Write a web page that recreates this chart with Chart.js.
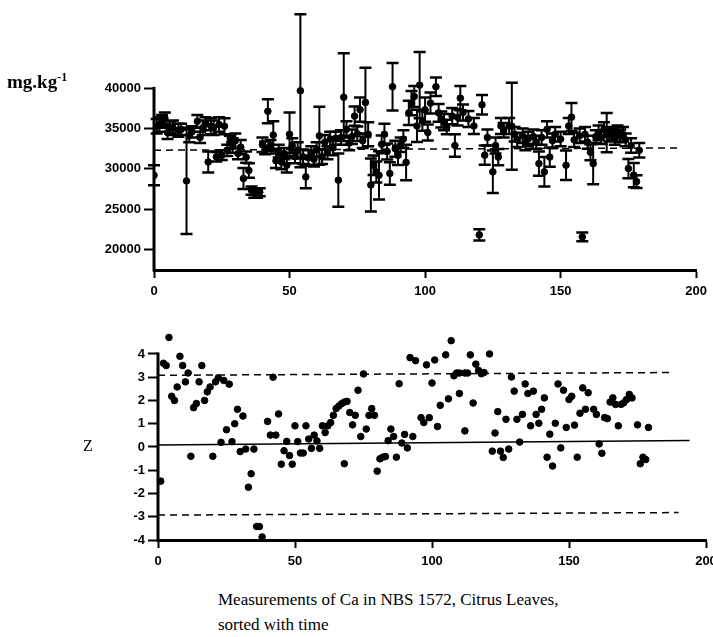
<!DOCTYPE html>
<html>
<head>
<meta charset="utf-8">
<script src="https://cdn.jsdelivr.net/npm/chart.js@4.4.1/dist/chart.umd.min.js"></script>
<style>
  body { margin: 0; background: #fff; width: 713px; height: 637px; position: relative; overflow: hidden; font-family: "Liberation Serif", "Times New Roman", serif; color: #000; }
  canvas { position: absolute; left: 0; }
  #topChart { top: 0; }
  #zChart { top: 320px; }
  .lbl { position: absolute; white-space: nowrap; }
</style>
</head>
<body>
<canvas id="topChart" width="713" height="300"></canvas>
<canvas id="zChart" width="730" height="250"></canvas>
<div class="lbl" style="left:7px;top:70px;font-size:19px;font-weight:bold;">mg.kg<sup style="font-size:12px">-1</sup></div>
<div class="lbl" style="left:83px;top:437px;font-size:16px;">Z</div>
<div class="lbl" style="left:218px;top:587px;font-size:17px;line-height:25px;">Measurements of Ca in NBS 1572, Citrus Leaves,<br>sorted with time</div>
<script>
// top panel: measured Ca (mg/kg) with uncertainty, by run order
var topIdx = [0,1,2,3,4,5,6,7,9,10,12,13,14,16,17,18,19,20,21,22,23,24,25,26,27,28,29,30,31,32,33,34,35,36,37,38,39,
  40,41,42,43,44,45,46,47,48,49,50,51,52,53,54,55,56,57,58,59,60,61,62,63,64,65,66,67,68,69,70,71,72,73,74,75,76,77,78,79,
  80,81,82,83,84,85,86,87,88,89,90,91,92,93,94,95,96,97,98,99,100,101,102,104,105,106,107,108,110,111,112,113,114,116,118,
  120,121,122,123,125,126,127,128,129,131,132,133,134,136,137,138,140,141,142,143,144,145,146,147,148,150,152,153,154,155,157,
  158,159,160,161,162,163,164,165,166,167,168,169,170,171,172,173,174,175,176,177,178,179];
var topVal = [29200,35300,35500,35900,36300,34500,35200,35100,34800,34900,28500,34100,34600,35900,33900,35100,35600,30850,35300,35100,31500,35500,31700,35300,32300,33300,32900,33500,31900,32700,28800,31450,29800,27300,27000,26900,27100,
  33000,32600,37150,32900,34200,31000,32200,30850,31900,30450,34300,32900,31500,32300,39700,31500,29000,31400,32000,31200,32400,34100,31500,33300,32000,33700,32600,33800,28600,33900,38900,34900,33200,34000,36550,34350,37350,33500,38250,34300,
  28000,30450,29600,29200,33050,34300,32150,29430,40200,32500,31670,33000,33700,30800,36950,38170,38990,35330,40400,35940,37350,34510,38170,40200,36950,36130,35800,35200,36550,32900,36400,38780,37000,36200,35330,
  21800,37960,31700,33900,29630,32900,31460,35330,34800,35330,35300,34300,33600,34100,33200,33700,34000,33300,30650,33900,29630,34900,31460,33500,34300,33700,30450,35330,36430,33600,34100,
  21550,34300,33300,32070,30650,34000,34500,33900,34900,34500,34200,34400,33900,34600,34100,34300,33600,30040,32890,29230,28410,32300];
var topErr = [1250,900,900,800,700,800,700,900,800,700,6600,800,700,800,700,900,800,1300,1000,900,600,900,600,1000,700,800,900,900,700,900,1300,700,900,500,600,500,500,
  900,800,1500,700,1700,900,800,900,700,900,2700,900,800,1000,9500,900,1400,900,800,900,900,3600,900,900,800,900,900,800,3300,900,5450,1000,900,900,1200,900,1500,900,4300,1500,
  3300,1200,1300,3000,1100,1300,1000,1400,2950,1000,1200,900,1100,2200,1500,1500,1300,2000,4100,1200,1500,1000,1300,1150,1100,1000,1000,900,1000,1400,1000,1500,1000,1000,1000,
  700,1200,1200,1000,2640,1000,1000,1000,900,1000,5400,900,900,900,900,900,900,800,1500,900,1830,1000,1200,900,900,900,1830,1000,1740,900,900,
  550,900,800,1000,2570,800,900,800,900,2450,800,800,900,800,800,900,800,1200,900,1500,800,900];
var meanIdx = [0, 194];
var meanVal = [32320, 32600];
var topTicksX = [0, 50, 100, 150, 200];
var topTicksY = [20000, 25000, 30000, 35000, 40000];

// bottom panel: z-scores
var zIdx = [1,2,3,4,5,6,7,8,9,10,11,12,13,14,15,16,17,18,19,20,21,22,23,24,25,26,27,28,29,30,31,32,33,34,35,36,37,38,
  40,41,42,43,44,45,46,47,48,49,50,51,52,53,54,55,56,57,58,59,60,61,62,63,64,65,66,67,68,68,69,70,71,72,73,74,75,76,77,78,79,
  80,81,82,83,84,85,86,87,88,89,90,91,92,93,94,96,97,98,99,100,101,102,103,105,106,107,108,109,110,110,112,112,113,114,115,116,117,118,119,
  121,122,123,124,125,126,127,128,129,130,131,132,133,134,135,136,137,138,139,140,141,142,143,144,145,146,147,148,149,150,151,152,153,154,155,156,157,159,
  160,161,162,163,164,165,166,167,168,169,170,171,172,173,175,176,177,178,179];
var zVal = [-1.47,3.6,3.5,4.71,2.18,2.0,2.58,3.9,3.5,2.8,3.18,-0.4,1.69,1.87,2.8,3.5,2.0,2.37,2.58,-0.4,2.8,2.97,0.2,2.86,0.74,2.7,0.23,1.0,1.62,-0.2,1.33,-0.09,-1.73,-1.15,-0.09,-3.42,-3.42,-3.87,
  1.1,0.51,3.0,0.51,1.42,-0.74,-0.16,0.24,-0.37,-0.74,0.91,0.23,-0.26,-0.26,0.91,0.34,-0.06,0.51,0.26,-0.06,0.91,0.62,0.91,1.05,1.36,1.65,1.76,1.86,1.93,-0.72,1.96,1.48,0.95,1.36,2.44,0.45,3.14,0.77,1.36,1.65,1.36,
  -1.04,-0.51,-0.44,-0.41,0.27,0.77,0.45,-0.44,2.72,0.17,0.54,-0.04,3.84,0.45,3.71,1.26,1.05,3.53,1.26,2.75,3.74,0.88,1.79,3.96,2.07,4.57,3.06,3.18,2.3,3.18,3.18,0.69,3.18,3.96,1.89,3.56,3.29,3.15,3.2,
  4.0,-0.18,0.6,1.52,-0.18,-0.45,1.19,-0.09,3.01,2.4,1.19,0.21,1.4,2.71,2.3,0.91,2.4,1.4,1.02,1.62,2.11,-0.44,0.55,-0.82,1.02,2.71,-0.04,2.44,0.84,2.04,2.18,0.94,-0.44,1.45,2.54,1.62,2.33,1.62,
  1.4,0.13,-0.27,1.26,1.22,1.93,2.11,1.83,0.91,1.83,1.9,2.04,2.26,2.11,0.95,-0.72,-0.44,-0.54,0.84];
var zeroIdx = [0, 194], zeroVal = [0.08, 0.28];
var upIdx = [0, 187], upVal = [3.08, 3.2];
var lowIdx = [0, 190], lowVal = [-2.93, -2.82];
var zTicksY = [-4, -3, -2, -1, 0, 1, 2, 3, 4];

var tickFont = { family: "'Liberation Sans', Arial, sans-serif", size: 13, weight: 'bold' };

function pts(xs, ys) {
  return xs.map(function (x, i) { return { x: x, y: ys[i] }; });
}

// y axis line only over the ticked range, like the original
function axisLine(topValue) {
  return {
    id: 'axisLine',
    afterDraw: function (chart) {
      var ctx = chart.ctx, a = chart.chartArea, y = chart.scales.y;
      ctx.save();
      ctx.strokeStyle = '#000';
      ctx.lineWidth = 3;
      ctx.beginPath();
      ctx.moveTo(a.left, y.getPixelForValue(topValue) - 1.5);
      ctx.lineTo(a.left, a.bottom + 1.5);
      ctx.stroke();
      ctx.restore();
    }
  };
}

var errorBars = {
  id: 'errorBars',
  beforeDatasetsDraw: function (chart) {
    var ctx = chart.ctx, xs = chart.scales.x, ys = chart.scales.y;
    ctx.save();
    ctx.strokeStyle = '#000';
    for (var i = 0; i < topIdx.length; i++) {
      var px = xs.getPixelForValue(topIdx[i]);
      var hi = ys.getPixelForValue(topVal[i] + topErr[i]);
      var lo = ys.getPixelForValue(topVal[i] - topErr[i]);
      ctx.lineWidth = 2;
      ctx.beginPath();
      ctx.moveTo(px, hi); ctx.lineTo(px, lo);
      ctx.stroke();
      ctx.lineWidth = 2.5;
      ctx.beginPath();
      ctx.moveTo(px - 6, hi); ctx.lineTo(px + 6, hi);
      ctx.moveTo(px - 6, lo); ctx.lineTo(px + 6, lo);
      ctx.stroke();
    }
    ctx.restore();
  }
};

function xAxis(ticks) {
  return {
    type: 'linear', min: 0, max: 200,
    afterBuildTicks: function (s) { s.ticks = ticks.map(function (v) { return { value: v }; }); },
    afterFit: function (s) { s.height = 30; },
    grid: { drawOnChartArea: false, drawTicks: true, tickLength: 8, tickWidth: 2, tickColor: '#000' },
    border: { display: true, color: '#000', width: 3 },
    ticks: { color: '#000', font: tickFont, padding: 6, maxRotation: 0, callback: function (v) { return String(v); } }
  };
}

function yAxis(min, max, ticks, width) {
  return {
    type: 'linear', min: min, max: max,
    afterBuildTicks: function (s) { s.ticks = ticks.map(function (v) { return { value: v }; }); },
    afterFit: function (s) { s.width = width; },
    grid: { drawOnChartArea: false, drawTicks: true, tickLength: 10, tickWidth: 2, tickColor: '#000' },
    border: { display: false },
    ticks: { color: '#000', font: tickFont, padding: 3, callback: function (v) { return String(v); } }
  };
}

new Chart(document.getElementById('topChart'), {
  type: 'scatter',
  data: {
    datasets: [
      { type: 'line', data: pts(meanIdx, meanVal), borderColor: '#000', borderWidth: 1.5, borderDash: [7, 5], pointRadius: 0 },
      { data: pts(topIdx, topVal), backgroundColor: '#000', borderColor: '#000', pointRadius: 3.3, pointHoverRadius: 3.3 }
    ]
  },
  options: {
    responsive: false,
    animation: false,
    layout: { padding: { top: 6, right: 11, left: 0, bottom: 0 } },
    plugins: { legend: { display: false }, tooltip: { enabled: false } },
    scales: {
      x: xAxis(topTicksX),
      y: yAxis(17440, 49630, topTicksY, 154)
    }
  },
  plugins: [errorBars, axisLine(40000)]
});

new Chart(document.getElementById('zChart'), {
  type: 'scatter',
  data: {
    datasets: [
      { type: 'line', data: pts(zeroIdx, zeroVal), borderColor: '#000', borderWidth: 1.5, pointRadius: 0 },
      { type: 'line', data: pts(upIdx, upVal), borderColor: '#000', borderWidth: 1.5, borderDash: [7, 5], pointRadius: 0 },
      { type: 'line', data: pts(lowIdx, lowVal), borderColor: '#000', borderWidth: 1.5, borderDash: [7, 5], pointRadius: 0 },
      { data: pts(zIdx, zVal), backgroundColor: '#000', borderColor: '#000', pointRadius: 3.3, pointHoverRadius: 3.3 }
    ]
  },
  options: {
    responsive: false,
    animation: false,
    layout: { padding: { top: 13, right: 24, left: 0, bottom: 0 } },
    plugins: { legend: { display: false }, tooltip: { enabled: false } },
    scales: {
      x: xAxis(topTicksX),
      y: yAxis(-4, 4.9, zTicksY, 158)
    }
  },
  plugins: [axisLine(4)]
});
</script>
</body>
</html>
